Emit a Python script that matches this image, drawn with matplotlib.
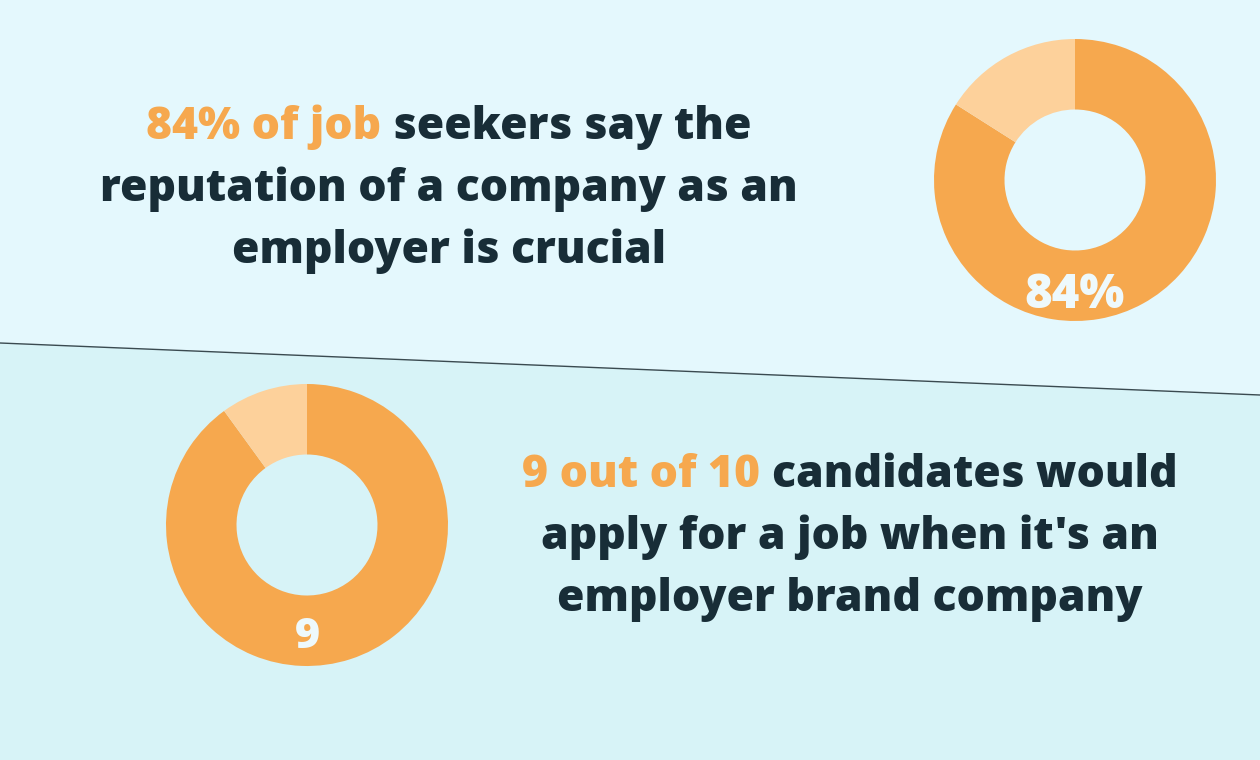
import matplotlib
matplotlib.use('Agg')
import matplotlib.pyplot as plt
import numpy as np

# ---- data ----
stat1_values = [84, 16]          # job seekers: reputation crucial vs not
stat1_label = "84%"
stat2_values = [9, 1]            # 9 out of 10 candidates
stat2_label = "9"

text1_lines = [
    [("84% of job", "hi"), ("seekers say the", "dk")],
    [("reputation of a company as an", "dk")],
    [("employer is crucial", "dk")],
]
text2_lines = [
    [("9 out of 10", "hi"), ("candidates would", "dk")],
    [("apply for a job when it's an", "dk")],
    [("employer brand company", "dk")],
]

# ---- style ----
W, H = 1260, 760
ORANGE = "#f6a84e"
LIGHT = "#fdd19b"
DARK = "#182d37"
BG_TOP = "#e4f8fd"
BG_BOT = "#d7f3f7"
LABEL_C = "#eef9fc"
FONT = ["Open Sans", "DejaVu Sans"]
WEIGHT = 800

fig = plt.figure(figsize=(12.6, 7.6), dpi=100)
fig.patch.set_facecolor(BG_TOP)
ax = fig.add_axes([0, 0, 1, 1])
Y = lambda y: H - y

# background split
ax.fill([0, W, W, 0], [Y(0), Y(0), Y(395), Y(343)], color=BG_TOP, lw=0, zorder=0)
ax.fill([0, W, W, 0], [Y(343), Y(395), Y(H), Y(H)], color=BG_BOT, lw=0, zorder=0)
ax.plot([0, W], [Y(343), Y(395)], color="#3a4a50", lw=1.0, zorder=1)

# donuts
R = 141
for vals, (cx, cy), lab, (lx, ly), lsize in [
    (stat1_values, (1075, 180), stat1_label, (1075, 308), 34),
    (stat2_values, (307, 525), stat2_label, (307, 648), 31),
]:
    ax.pie(vals, colors=[ORANGE, LIGHT], startangle=90, counterclock=False,
           radius=R, center=(cx, Y(cy)), frame=True,
           wedgeprops=dict(width=R * 0.5, linewidth=0))
    ax.text(lx, Y(ly), lab, ha="center", va="baseline", color=LABEL_C,
            fontsize=lsize * 72 / 100 / 0.72, family=FONT, fontweight=WEIGHT, zorder=5)

ax.set_xlim(0, W)
ax.set_ylim(0, H)
ax.set_aspect("auto")
ax.axis("off")

renderer = fig.canvas.get_renderer()


def measure(s, size):
    t = ax.text(0, 0, s, fontsize=size, family=FONT, fontweight=WEIGHT)
    w = t.get_window_extent(renderer=renderer).width
    t.remove()
    return w


def line_str(segs):
    return " ".join(s for s, _ in segs)


# fit font size to the reference line widths
targets = [602, 703, 440, 644, 609, 599]
base = 30
ratios = [tw / measure(line_str(l), base) for tw, l in zip(targets, text1_lines + text2_lines)]
size = base * float(np.mean(ratios))
space_w = measure("a a", size) - measure("aa", size)


def draw_block(lines, cx, baselines):
    for segs, by in zip(lines, baselines):
        widths = [measure(s, size) for s, _ in segs]
        total = sum(widths) + space_w * (len(segs) - 1)
        x = cx - total / 2
        for (s, c), w in zip(segs, widths):
            ax.text(x, Y(by), s, fontsize=size, family=FONT, fontweight=WEIGHT,
                    color=ORANGE if c == "hi" else DARK, ha="left", va="baseline", zorder=5)
            x += w + space_w


draw_block(text1_lines, 449, [139, 201, 263])
draw_block(text2_lines, 850, [487, 549, 611])

fig.savefig("out.png", dpi=100, facecolor=BG_TOP)
